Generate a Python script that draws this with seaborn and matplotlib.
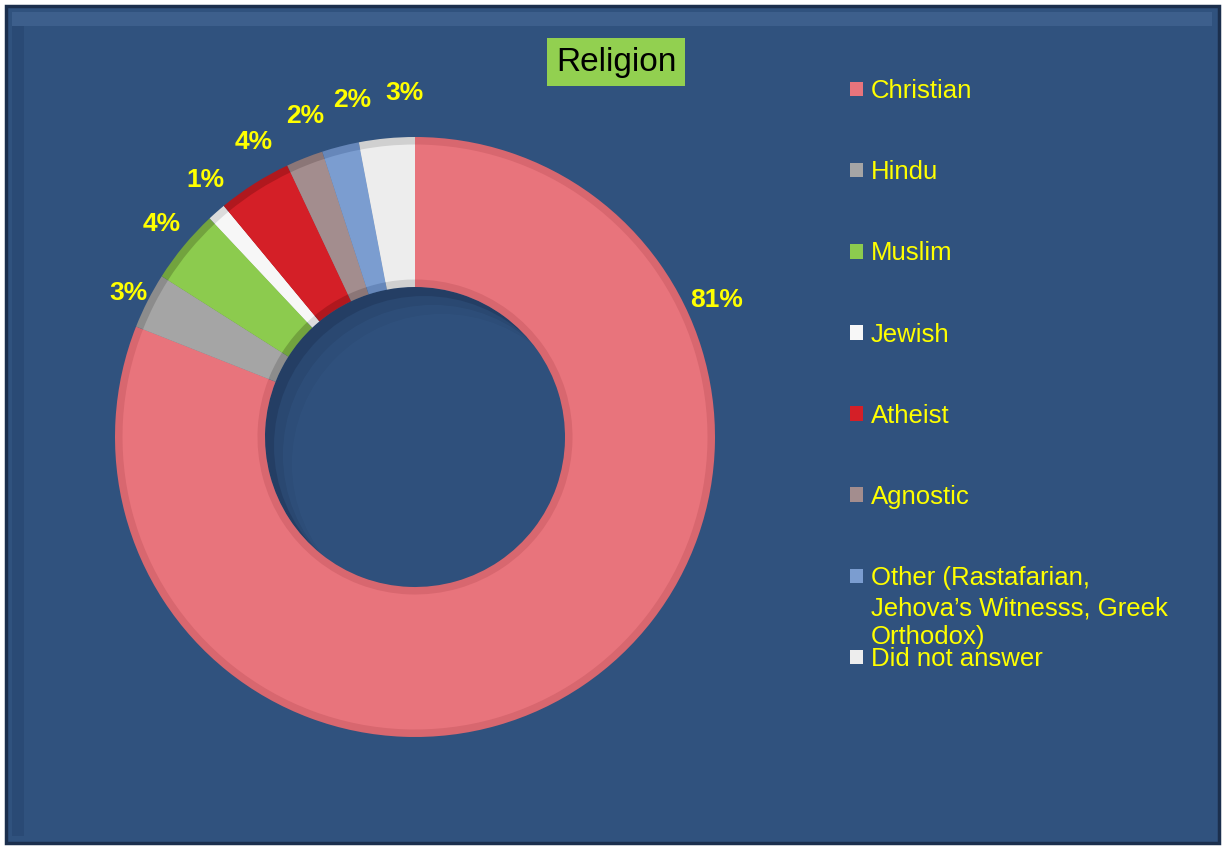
import matplotlib
matplotlib.use("Agg")
import matplotlib.pyplot as plt
import seaborn as sns
import numpy as np
from matplotlib.patches import Rectangle, Circle

# ---- data ----
categories = ["Christian", "Hindu", "Muslim", "Jewish", "Atheist", "Agnostic",
              "Other (Rastafarian,", "Did not answer"]
other_extra = "Jehova\u2019s Witnesss, Greek\nOrthodox)"
values = [81, 3, 4, 1, 4, 2, 2, 3]
pct_labels = ["81%", "3%", "4%", "1%", "4%", "2%", "2%", "3%"]
colors = ["#E8747C", "#A5A5A5", "#8CCB4E", "#F7F7F7", "#D41F27",
          "#A38D8E", "#7B9DD0", "#EDEDED"]
rim_colors = ["#D8676F", "#8C8C8C", "#72A33E", "#DCDCDC", "#B0181E",
              "#8B7677", "#6687BA", "#D0D0D0"]

# label placement (layout only): radial distance and angular nudge (deg, clockwise)
label_r = [1.107, 1.074, 1.107, 1.11, 1.13, 1.14, 1.15, 1.154]
label_nudge = [0, 0.1, 0.8, 2.5, 3.9, 2.8, 3.9, 3.6]

BG = "#30527E"
W, H = 1223, 847

sns.set_theme(style="white")
plt.rcParams["font.family"] = ["Liberation Sans", "DejaVu Sans"]

fig = plt.figure(figsize=(W / 100, H / 100), dpi=100, facecolor="white")

def fx(px):
    return px / W

def fy(py):
    return 1 - py / H

# background frame
fig.patches.append(Rectangle((fx(6), fy(843)), fx(1219) - fx(6), fy(6) - fy(843),
                             transform=fig.transFigure, facecolor=BG,
                             edgecolor="#1B2F4D", lw=2.5, zorder=-10))
# bevel highlights
fig.patches.append(Rectangle((fx(12), fy(26)), fx(1212) - fx(12), fy(12) - fy(26),
                             transform=fig.transFigure, facecolor="#4A6C9A",
                             edgecolor="none", alpha=0.5, zorder=-9))
fig.patches.append(Rectangle((fx(12), fy(836)), fx(24) - fx(12), fy(26) - fy(836),
                             transform=fig.transFigure, facecolor="#27466F",
                             edgecolor="none", alpha=0.6, zorder=-9))

# pie axes: center (415,437), radius 300 px
R = 360
ax = fig.add_axes([fx(415 - R), fy(437 + R), 2 * R / W, 2 * R / H])
ax.set_zorder(2)
ax.patch.set_visible(False)

# base ring (rim / bevel)
ax.pie(values, colors=rim_colors, startangle=90, counterclock=False,
       radius=1.0, wedgeprops=dict(width=0.5, linewidth=0))
# face ring
wedges, _ = ax.pie(values, colors=colors, startangle=90, counterclock=False,
                   radius=0.975, wedgeprops=dict(width=0.45, linewidth=0.8,
                                                 edgecolor="none"))
ax.set_xlim(-1.2, 1.2)
ax.set_ylim(-1.2, 1.2)
ax.set_aspect("equal")
ax.axis("off")

# hole shading
hole = Circle((0, 0), 0.5, transform=ax.transData)
ax.add_patch(Circle((0, 0), 0.5, facecolor="#243E64", edgecolor="none", zorder=0.5))
for off, a in [(0.03, 0.5), (0.06, 0.6), (0.09, 0.8)]:
    c = Circle((off, -off), 0.5, facecolor=BG, edgecolor="none", alpha=a, zorder=0.6)
    ax.add_patch(c)
    c.set_clip_path(hole)

# percentage labels
for i, (w, lab) in enumerate(zip(wedges, pct_labels)):
    if i == 0:
        ang = np.deg2rad(24.9)
    else:
        ang = np.deg2rad((w.theta1 + w.theta2) / 2 - label_nudge[i])
    r = label_r[i]
    ax.text(r * np.cos(ang), r * np.sin(ang), lab, ha="center",
            va="center_baseline", fontsize=19, fontweight="bold",
            color="#FFFF00")

# title
fig.text(fx(616), fy(62), "Religion", ha="center", va="center", fontsize=24,
         color="black", zorder=5,
         bbox=dict(boxstyle="square,pad=0.25", fc="#92D050", ec="none"))

# legend
leg = fig.legend(wedges, categories, loc="upper left",
                 bbox_to_anchor=(fx(850), fy(79)), frameon=False, fontsize=18.5,
                 labelcolor="#FFFF00", handlelength=0.5, handleheight=0.5,
                 handletextpad=0.3, labelspacing=2.225, borderpad=0,
                 borderaxespad=0)
leg.set_zorder(5)
fig.canvas.draw()
bb = leg.get_texts()[6].get_window_extent()
fig.text(bb.x0 / W, bb.y1 / H - 30 / H, other_extra, ha="left", va="top",
         fontsize=18.5, color="#FFFF00", linespacing=1.25, zorder=5)

fig.savefig("out.png", dpi=100, facecolor="white")
